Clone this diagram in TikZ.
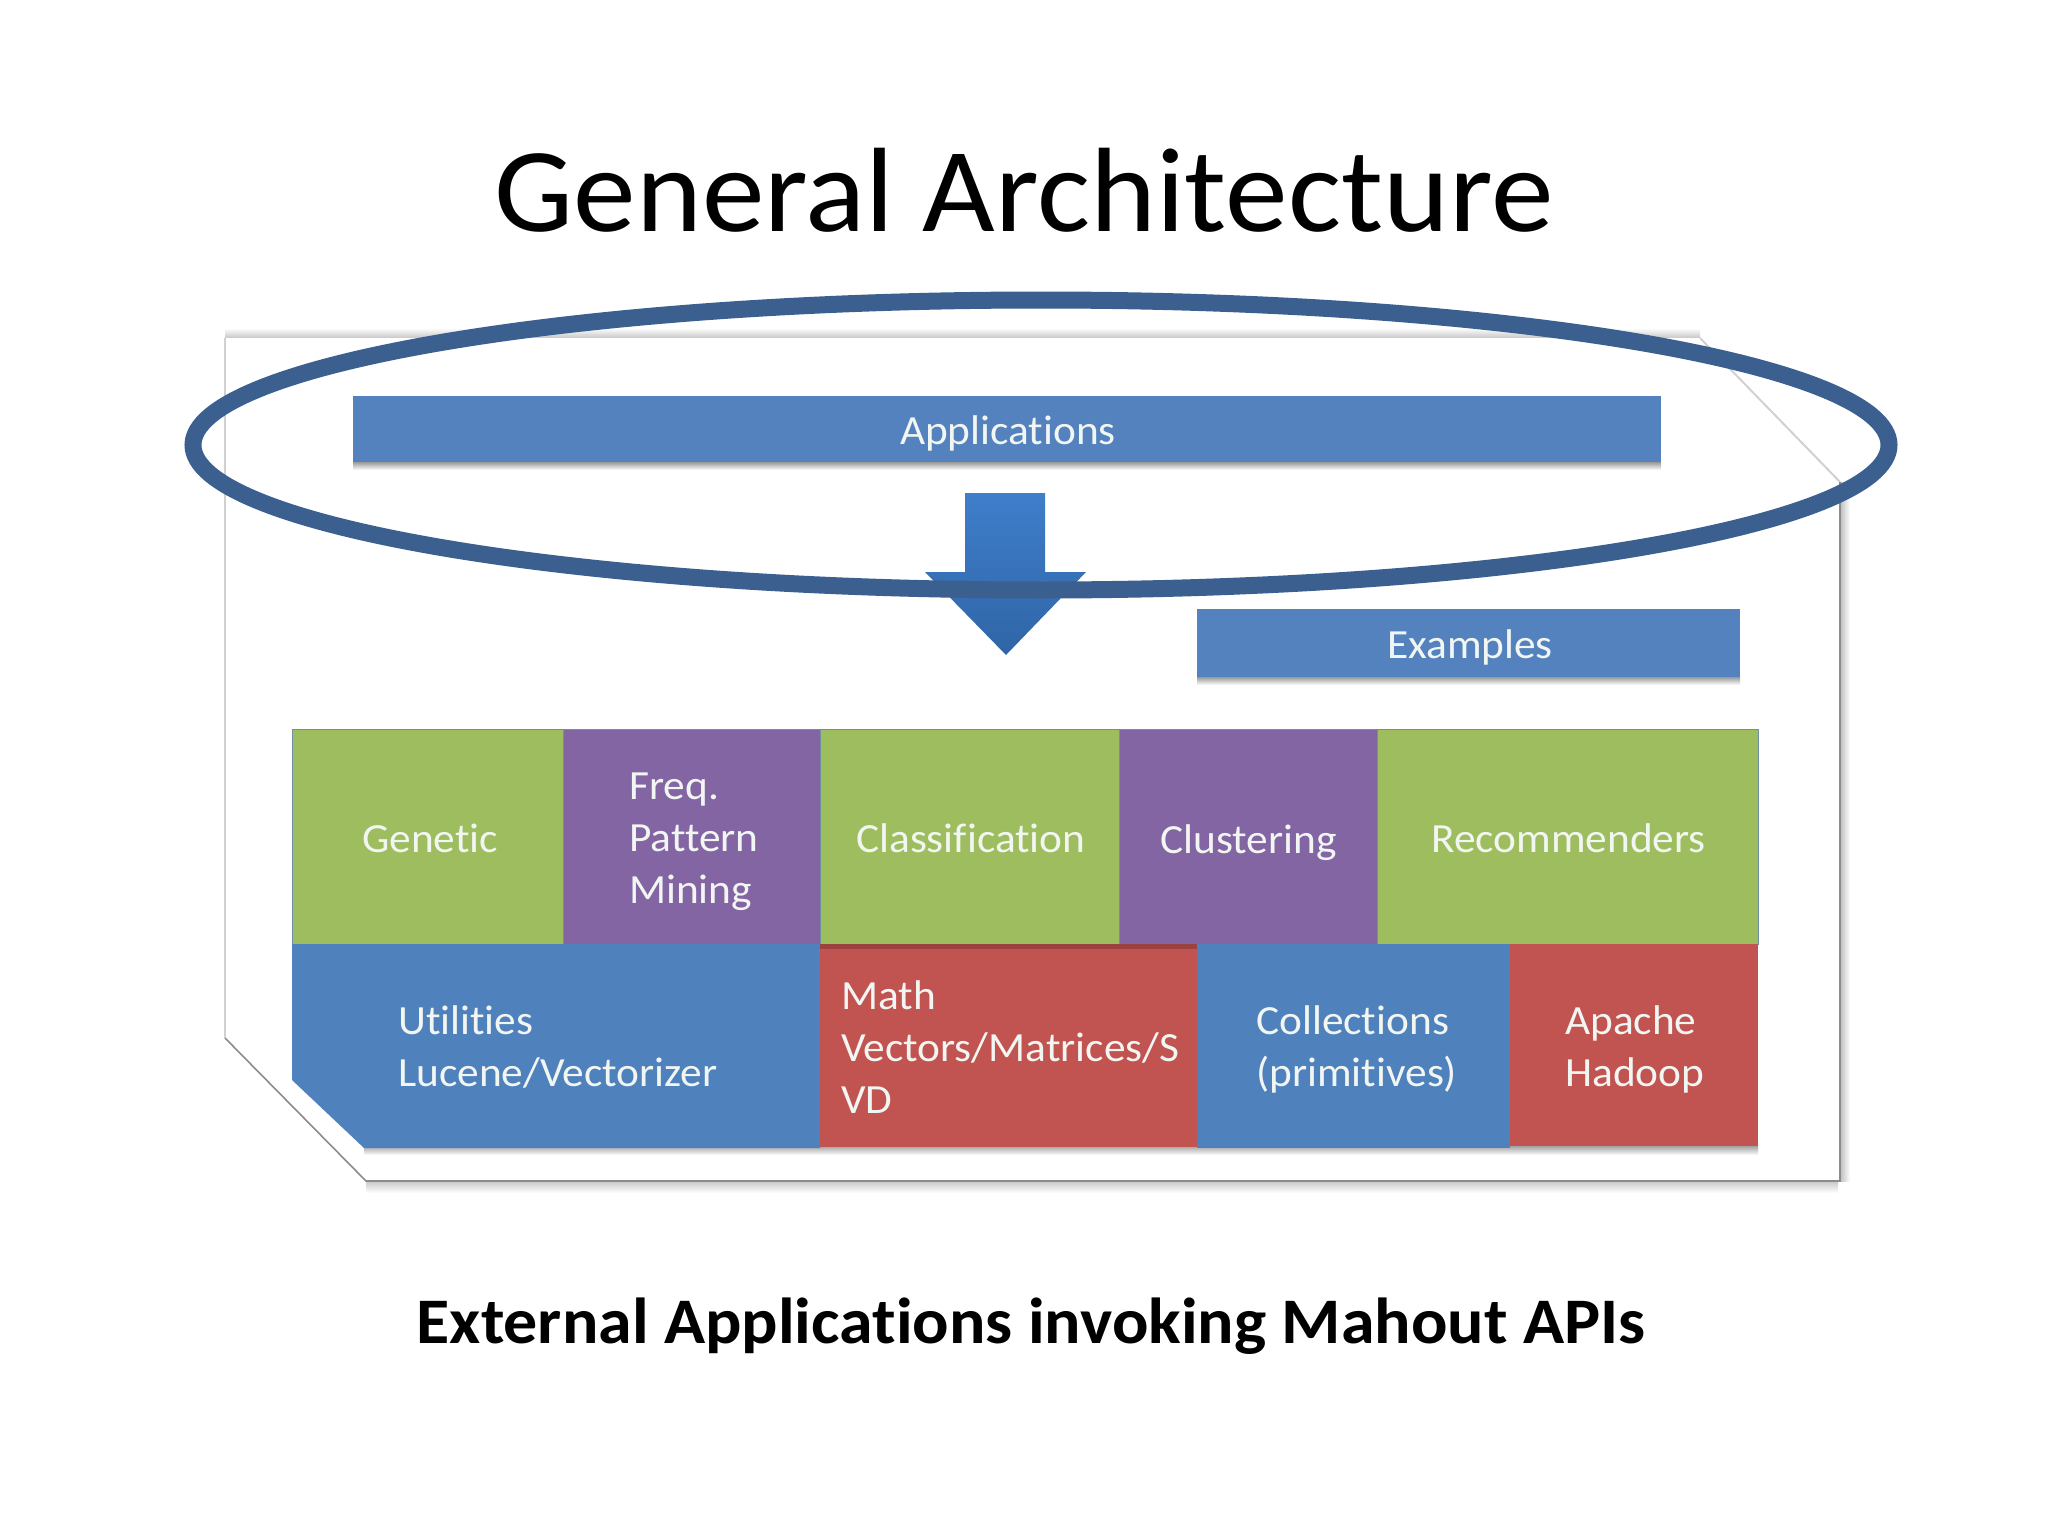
\documentclass[tikz,border=0pt]{standalone}
\usepackage{fontspec}
\setmainfont[Ligatures=NoCommon,FakeStretch=1.045]{Carlito}
\definecolor{barblue}{HTML}{5382BE}
\definecolor{cellblue}{HTML}{4F81BD}
\definecolor{cellgreen}{HTML}{9DBD5F}
\definecolor{cellpurple}{HTML}{8365A4}
\definecolor{cellred}{HTML}{C15351}
\definecolor{ringblue}{HTML}{3B6090}
\definecolor{edgeline}{HTML}{6F8FA5}
\definecolor{labelwhite}{HTML}{F2F6F2}
\definecolor{arrowtop}{HTML}{3F7ECB}
\definecolor{arrowmid}{HTML}{3A72B8}
\definecolor{arrowbot}{HTML}{2F65A6}
\tikzset{
  x=1pt,y=-1pt,
  titletext/.style={inner sep=0pt,font=\fontsize{120}{120}\selectfont,text=black},
  captiontext/.style={inner sep=0pt,font=\bfseries\fontsize{65}{65}\selectfont,text=black},
  celltext/.style={inner sep=0pt,anchor=base west,align=left,text=labelwhite,font=\fontsize{41.5}{52}\selectfont},
  bartext/.style={inner sep=0pt,text=labelwhite,font=\fontsize{41.5}{52}\selectfont},
  softshadow/.style={top color=#1,bottom color=white,draw=none},
  softshadowup/.style={top color=white,bottom color=#1,draw=none},
  softshadowright/.style={left color=#1,right color=white,draw=none},
  pageedge/.style={draw=black!45,line width=1.6pt},
  cell/.style={draw=edgeline,line width=0.8pt},
}
\begin{document}
\begin{tikzpicture}
\useasboundingbox (0,0) rectangle (2048,1536);
% page shadows
\fill[softshadowup=black!22] (225,328) rectangle (1700,338);
\fill[softshadow=black!22] (366,1181) rectangle (1838,1193);
\fill[softshadowright=black!25] (1840,482) rectangle (1850,1181);
% page
\fill[white] (225,338) -- (1700,338) -- (1840,482) -- (1840,1181) -- (366,1181) -- (225,1038) -- cycle;
\draw[draw=black!18,line width=1.6pt] (225,1038) -- (225,338);
\draw[draw=black!18,line width=2pt] (1700,338) -- (1840,482);
\draw[pageedge] (225,1038) -- (366,1181) -- (1840,1181) -- (1840,482);
% bars
\fill[softshadow=black!40] (353,462) rectangle (1661,470);
\fill[softshadow=black!40] (1197,677) rectangle (1740,685);
\fill[barblue] (353,396) rectangle (1661,462);
\fill[barblue] (1197,609) rectangle (1740,677);
\node[bartext] (apps) at (1008,433) {Applications};
\node[bartext] (examples) at (1470,647) {Examples};
% arrow
\shade[top color=arrowtop,middle color=arrowmid,bottom color=arrowbot]
  (965,493) -- (1045,493) -- (1045,572) -- (1086,572) -- (1006,655) -- (925,572) -- (965,572) -- cycle;
% grid shadow
\fill[softshadow=black!40] (364,1145) rectangle (1758,1155);
% top row
\fill[cellgreen,cell] (292,729) rectangle (563,944);
\fill[cellpurple,cell] (563,729) rectangle (820,944);
\fill[cellgreen,cell] (820,729) rectangle (1119,944);
\fill[cellpurple,cell] (1119,729) rectangle (1377,944);
\fill[cellgreen,cell] (1377,729) rectangle (1758,944);
% bottom row
\fill[cellblue] (292,944) -- (820,944) -- (820,1148) -- (364,1148) -- (292,1080) -- cycle;
\fill[cellblue] (1197,944) rectangle (1510,1148);
\fill[cellred] (820,944) rectangle (1197,1147);
\fill[cellred!80!black] (820,944) rectangle (1197,949);
\fill[cellred] (1510,944) rectangle (1758,1146);
% labels
\node[celltext] (genetic) at (362,852) {Genetic};
\node[celltext] (freq) at (629,903) {Freq.\\Pattern\\Mining};
\node[celltext] (classif) at (856,852) {Classification};
\node[celltext] (clustering) at (1160,853) {Clustering};
\node[celltext] (recomm) at (1431,852) {Recommenders};
\node[celltext] (utils) at (398,1086) {Utilities\\Lucene/Vectorizer};
\node[celltext] (math) at (841,1113) {Math\\Vectors/Matrices/S\\VD};
\node[celltext] (coll) at (1256,1086) {Collections\\(primitives)};
\node[celltext] (hadoop) at (1565,1086) {Apache\\Hadoop};
% ring
\draw[draw=ringblue,line width=17pt] (1041,445) ellipse [x radius=848,y radius=145];
% title and caption
\node[titletext,anchor=base] (title) at (1024,231) {General Architecture};
\node[captiontext,anchor=base] (caption) at (1031,1343) {External Applications invoking Mahout APIs};
\end{tikzpicture}
\end{document}
